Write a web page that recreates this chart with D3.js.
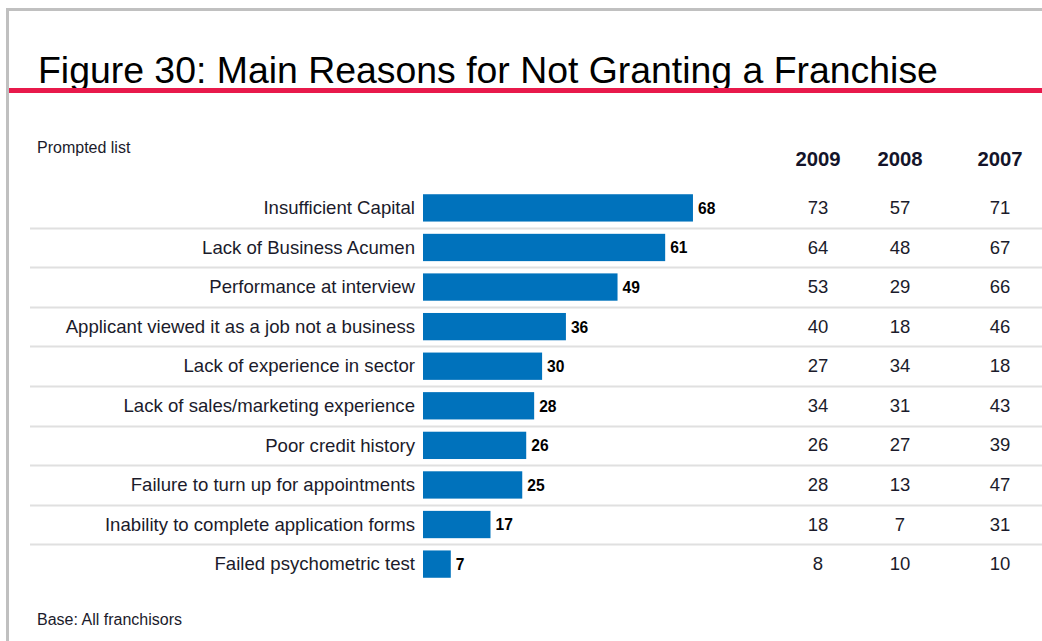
<!DOCTYPE html>
<html>
<head>
<meta charset="utf-8">
<script src="https://cdn.jsdelivr.net/npm/d3@7"></script>
<style>
  html, body { margin: 0; padding: 0; background: #ffffff; }
  svg { display: block; }
  text { font-family: "Liberation Sans", Arial, Helvetica, sans-serif; }
</style>
</head>
<body>
<svg id="chart" width="1042" height="641"></svg>
<script>
// Reasons franchisors give for turning down applicants
const categories = [
  "Insufficient Capital",
  "Lack of Business Acumen",
  "Performance at interview",
  "Applicant viewed it as a job not a business",
  "Lack of experience in sector",
  "Lack of sales/marketing experience",
  "Poor credit history",
  "Failure to turn up for appointments",
  "Inability to complete application forms",
  "Failed psychometric test"
];

// Current survey (bars)
const currentValues = [68, 61, 49, 36, 30, 28, 26, 25, 17, 7];

// Earlier years (table columns)
const years = ["2009", "2008", "2007"];
const values2009 = [73, 64, 53, 40, 27, 34, 26, 28, 18, 8];
const values2008 = [57, 48, 29, 18, 34, 31, 27, 13, 7, 10];
const values2007 = [71, 67, 66, 46, 18, 43, 39, 47, 31, 10];

const titleText = "Figure 30: Main Reasons for Not Granting a Franchise";
const subtitleText = "Prompted list";
const baseText = "Base: All franchisors";

const W = 1042, H = 641;
const svg = d3.select("#chart");

// Frame: grey top and left edges
svg.append("rect").attr("x", 6).attr("y", 8).attr("width", W - 6).attr("height", 3).attr("fill", "#c0c0c0");
svg.append("rect").attr("x", 6).attr("y", 8).attr("width", 3).attr("height", H - 8).attr("fill", "#c0c0c0");

// Title and red rule
svg.append("text")
  .attr("x", 38).attr("y", 83)
  .attr("font-size", 37.4)
  .attr("fill", "#000")
  .text(titleText);
svg.append("rect").attr("x", 9).attr("y", 88).attr("width", W - 9).attr("height", 5).attr("fill", "#e8194b");

svg.append("text")
  .attr("x", 37).attr("y", 153)
  .attr("font-size", 16)
  .attr("fill", "#1b1b2b")
  .text(subtitleText);

svg.append("text")
  .attr("x", 37).attr("y", 625)
  .attr("font-size", 16)
  .attr("fill", "#1b1b2b")
  .text(baseText);

// Scales
const y = d3.scaleBand()
  .domain(categories)
  .range([188.1, 583.9])
  .paddingInner(0.31)
  .paddingOuter(0.155);

const x = d3.scaleLinear().domain([0, 100]).range([423, 820]);

const colX = d3.scaleOrdinal().domain(years).range([818, 900, 1000]);

const rowMid = c => y(c) + y.bandwidth() / 2;
const step = y.step();

// Row separators
svg.append("g")
  .selectAll("line")
  .data(categories.slice(1))
  .join("line")
  .attr("x1", 30).attr("x2", W)
  .attr("y1", c => Math.round(rowMid(c) - step / 2) + 0.5)
  .attr("y2", c => Math.round(rowMid(c) - step / 2) + 0.5)
  .attr("stroke", "#e0e0e0")
  .attr("stroke-width", 2);

// Category labels
svg.append("g")
  .selectAll("text")
  .data(categories)
  .join("text")
  .attr("x", 415)
  .attr("y", c => rowMid(c))
  .attr("dy", "0.33em")
  .attr("text-anchor", "end")
  .attr("font-size", 18.6)
  .attr("fill", "#1b1b2b")
  .text(c => c);

// Bars
svg.append("g")
  .selectAll("rect")
  .data(categories)
  .join("rect")
  .attr("x", x(0))
  .attr("y", c => y(c))
  .attr("width", (c, i) => x(currentValues[i]) - x(0))
  .attr("height", y.bandwidth())
  .attr("fill", "#0072bc");

// Bar value labels
svg.append("g")
  .selectAll("text")
  .data(categories)
  .join("text")
  .attr("x", (c, i) => x(currentValues[i]) + 5)
  .attr("y", c => rowMid(c))
  .attr("dy", "0.38em")
  .attr("font-size", 15.6)
  .attr("font-weight", "bold")
  .attr("fill", "#000")
  .text((c, i) => currentValues[i]);

// Table: headers and columns of earlier years
const columns = [
  { year: years[0], values: values2009 },
  { year: years[1], values: values2008 },
  { year: years[2], values: values2007 }
];

svg.append("g")
  .selectAll("text")
  .data(columns)
  .join("text")
  .attr("x", d => colX(d.year))
  .attr("y", 166)
  .attr("text-anchor", "middle")
  .attr("font-size", 20.3)
  .attr("font-weight", "bold")
  .attr("fill", "#14142a")
  .text(d => d.year);

const colGroups = svg.append("g")
  .selectAll("g")
  .data(columns)
  .join("g");

colGroups.selectAll("text")
  .data(d => d.values.map((v, i) => ({ year: d.year, v, c: categories[i] })))
  .join("text")
  .attr("x", d => colX(d.year))
  .attr("y", d => rowMid(d.c))
  .attr("dy", "0.33em")
  .attr("text-anchor", "middle")
  .attr("font-size", 18.5)
  .attr("fill", "#1b1b2b")
  .text(d => d.v);
</script>
</body>
</html>
